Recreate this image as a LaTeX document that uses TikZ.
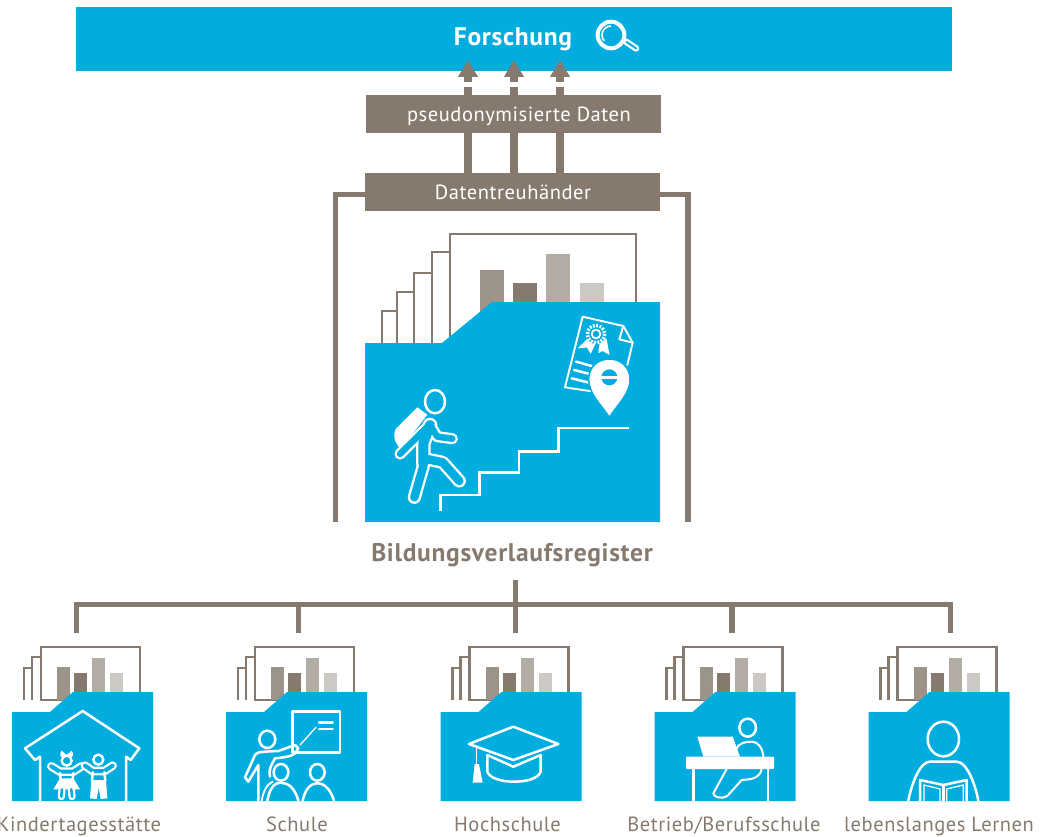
\documentclass[tikz,border=0pt]{standalone}
\usepackage{fontspec}
\setmainfont{PT Sans}[LetterSpace=2.7]
\usetikzlibrary{arrows.meta,calc}
\definecolor{fblue}{HTML}{00ADDE}
\definecolor{fbrown}{HTML}{857A6D}
\definecolor{barA}{HTML}{9C9389}
\definecolor{barB}{HTML}{857A6D}
\definecolor{barC}{HTML}{B3ACA4}
\definecolor{barD}{HTML}{CCC8C3}
\tikzset{
  box/.style={fill=fbrown,minimum width=295pt,minimum height=38pt,inner sep=0pt},
  boxtxt/.style={text=white,inner sep=0pt,anchor=base,font=\fontsize{20.5}{24}\selectfont},
  lbl/.style={text=fbrown,inner sep=0pt,anchor=base,font=\fontsize{20.5}{24}\selectfont},
  conn/.style={draw=fbrown,line width=5.2pt},
  shaft/.style={draw=fbrown,line width=8pt},
  sheet/.style={draw=fbrown,fill=white,line width=2.5pt},
  ln/.style={draw=white,line width=2.5pt,line cap=round,line join=round},
  thin/.style={draw=white,line width=1.3pt,line cap=round,line join=round},
  z/.style 2 args={shift={(#1,#2)},x=0.33333pt,y=-0.33333pt}
}
\newcommand{\smallfolder}[1]{%
 \begin{scope}[shift={(#1,0)}]
  \draw[sheet] (12,700)--(12,668)--(20,668)--(20,700);
  \draw[sheet] (20,700)--(20,657)--(29,657)--(29,700);
  \draw[sheet] (29,700)--(29,647)--(128,647)--(128,700)--cycle;
  \fill[barA] (45,667) rectangle (58,700);
  \fill[barB] (62,673) rectangle (75,700);
  \fill[barC] (80,658) rectangle (93,700);
  \fill[barD] (98,673) rectangle (111,700);
  \fill[fblue] (0,712)--(38,712)--(61,692)--(141,692)--(141,801)--(0,801)--cycle;
 \end{scope}}
\def\hikerparts#1#2{%
  \draw[#2,line width=#1+10pt,line cap=round,line join=round] (150,135)--(130,190)--(130,250);
  \draw[#2,line width=#1+8.5pt,line cap=round,line join=round] (130,258)--(103,352);
  \draw[#2,line width=#1+8.5pt,line cap=round,line join=round] (145,238)--(188,247)--(238,303);
  \draw[#2,line width=#1+6.5pt,line cap=round,line join=round] (150,135)--(172,170)--(217,176);
  \draw[#2,line width=#1+6.5pt,line cap=round,line join=round] (148,135)--(60,222);
}
\def\tube#1#2#3{%
  \draw[white,line width=#1+4.6pt,line cap=round,line join=round] #3;
  \draw[fblue,line width=#1,line cap=round,line join=round] #3;}
\begin{document}
\begin{tikzpicture}[x=1pt,y=-1pt]
\useasboundingbox (0,0) rectangle (1051,837);
% top bar
\node[fill=fblue,minimum width=876pt,minimum height=64pt,inner sep=0pt] (bar) at (514,39) {};
\node[text=white,inner sep=0pt,anchor=base,font=\fontsize{25.5}{30}\selectfont\bfseries] (forsch) at (513,46) {Forschung};
% magnifier
\begin{scope}[z={330}{0}]
 \draw[white,line width=4pt] (843,105) circle (40);
 \draw[white,line width=1.6pt] (843,78) arc (-90:-220:27);
 \draw[white,line width=6.5pt,line cap=round] (888,125)--(918,145);
 \draw[fblue,line width=2pt,line cap=round] (890,126)--(918,145);
\end{scope}
% boxes and arrows
\foreach \n/\xx in {a/468,b/514,c/560}{
  \coordinate (\n0) at (\xx,173);
  \coordinate (\n1) at (\xx,87);
  \coordinate (\n2) at (\xx,82);
  \coordinate (\n3) at (\xx,60);
  \draw[shaft] (\n0)--(\n1);
  \draw[shaft,-{Triangle[length=17pt,width=19pt]}] (\n2)--(\n3);
}
\node[box] (pseudobox) at (513.5,114) {};
\node[box] (treubox) at (512.5,192) {};
\node[boxtxt] (pseudotxt) at (519,121.7) {pseudonymisierte Daten};
\node[boxtxt] (treutxt) at (513,200) {Datentreuhänder};
% bracket
\coordinate (bl) at (335.5,522);
\coordinate (br) at (688,522);
\coordinate (tl) at (365,194.5);
\coordinate (tr) at (660,194.5);
\draw[conn] (bl)|-(tl);
\draw[conn] (br)|-(tr);
% large folder
\draw[sheet] (382,343)--(382,311)--(397,311)--(397,343);
\draw[sheet] (397,343)--(397,292)--(414,292)--(414,343);
\draw[sheet] (414,343)--(414,273)--(432,273)--(432,343);
\draw[sheet] (432,343)--(432,252)--(450,252)--(450,343);
\draw[sheet] (450,343)--(450,234)--(636,234)--(636,343);
\fill[barA] (480,270) rectangle (504,320);
\fill[barB] (513,283) rectangle (537,320);
\fill[barC] (546,254) rectangle (570,320);
\fill[barD] (580,283) rectangle (604,320);
\fill[fblue] (365,343)--(442,343)--(492,302)--(660,302)--(660,522)--(365,522)--cycle;
% large icon
\begin{scope}[z={360}{290}]
 \draw[ln,line cap=butt,line join=miter] (241,662)--(241,615)--(358,615)--(358,548)--(477,548)--(477,484)--(596,484)--(596,414)--(808,414);
 \draw[ln,line width=1.9pt] (695,304)--(615,292)--(668,80)--(790,108)--(818,158)--(802,225);
 \draw[ln,line width=1.9pt] (790,108)--(778,148)--(818,158);
 \draw[ln] (648,215)--(695,228) (642,240)--(690,252) (635,265)--(688,278);
 \draw[white,line width=1.7pt,fill=white] (685,147)--(660,172)--(682,170)--(692,186)--(705,158)--cycle;
 \draw[white,line width=1.7pt,fill=white] (722,155)--(718,185)--(728,180)--(745,190)--(738,150)--cycle;
 \fill[fblue] (708,132) circle (30);
 \draw[white,line width=1.8pt] (708,132) circle (13);
 \draw[white,line width=3.4pt,dash pattern=on 1.9pt off 1.5pt] (708,132) circle (26);
 \fill[white,draw=fblue,line width=1.5pt] (748,382) .. controls (720,340) and (686,310) .. (686,268) .. controls (686,230) and (715,207) .. (748,207) .. controls (781,207) and (810,230) .. (810,268) .. controls (810,310) and (776,340) .. (748,382) -- cycle;
 \fill[fblue] (748,262) circle (24);
 \draw[white,line width=3pt] (722,262)--(774,262);
\end{scope}
% hiker
\begin{scope}[z={380}{380}]
 \draw[ln] (165,65) ellipse (30 and 35);
 \fill[white] (112,82)--(142,104)--(62,208) .. controls (42,185) and (38,165) .. (47,147) -- cycle;
 \hikerparts{4.6pt}{white}
 \hikerparts{0pt}{fblue}
\end{scope}
% register label
\node[lbl,font=\fontsize{25.5}{30}\selectfont\bfseries] (reg) at (512,561) {Bildungsverlaufsregister};
% tree
\coordinate (hub) at (515.5,604.7);
\coordinate (top) at (515.5,580);
\foreach \n/\xx in {d0/76.7,d1/298.7,d2/515.5,d3/732,d4/950.5}{
 \coordinate (\n) at (\xx,633);
}
\draw[conn] (top)--(d2);
\draw[conn] (d0)|-(hub);
\draw[conn] (d1)|-(hub);
\draw[conn] (d3)|-(hub);
\draw[conn] (d4)|-(hub);
% small folders
\smallfolder{12}\smallfolder{226}\smallfolder{440.5}\smallfolder{654.5}\smallfolder{868.5}
% Kita
\begin{scope}[z={0}{640}]
 \draw[ln] (120,482)--(120,350)--(105,360)--(75,325)--(248,213)--(418,325)--(392,360)--(378,350)--(378,482);
\end{scope}
\begin{scope}[z={40}{745}]
 \fill[white] (80,30)--(65,17) .. controls (58,25) and (60,38) .. (68,36)--cycle;
 \fill[white] (80,30)--(95,17) .. controls (102,25) and (100,38) .. (92,36)--cycle;
 \draw[white,line width=2.4pt,fill=fblue] (80,47) circle (15);
 \tube{4pt}{}{(34,64)--(60,80)--(100,80)--(124,64)}
 \draw[ln] (60,84)--(62,105) (100,84)--(98,105);
 \fill[white] (60,100)--(100,100)--(120,133)--(40,133)--cycle;
 \tube{2.6pt}{}{(66,133)--(64,155)}
 \tube{2.6pt}{}{(94,133)--(96,155)}
 \draw[white,line width=2.4pt] (175,44) circle (15);
 \tube{4pt}{}{(135,62)--(158,78)--(193,78)--(218,62)}
 \draw[ln] (158,82)--(156,108) (193,82)--(196,108);
 \fill[white] (154,105)--(198,105)--(202,160)--(182,162)--(176,128)--(170,162)--(150,160)--cycle;
\end{scope}
% Schule
\begin{scope}[z={0}{640}]
 \draw[ln] (877,214) rectangle (1020,338);
 \draw[ln] (957,248)--(998,248) (957,267)--(998,267);
 \draw[thin] (900,315)--(948,262);
 \draw[ln] (802,298) ellipse (24 and 26);
 \draw[ln] (775,482)--(775,375)--(745,425)--(735,412)--(765,345) .. controls (770,335) and (790,335) .. (835,333)--(885,315)--(895,325)--(885,340) .. controls (870,352) and (850,352) .. (825,355) .. controls (815,375) and (805,385) .. (810,410);
 \draw[ln] (843,397) ellipse (22 and 25);
 \draw[ln] (802,482) .. controls (810,440) and (825,428) .. (843,428) .. controls (865,428) and (885,445) .. (895,482);
 \draw[ln,line width=1.8pt] (785,482) .. controls (790,455) and (800,432) .. (818,425);
 \draw[ln] (952,397) ellipse (22 and 25);
 \draw[ln] (908,482) .. controls (915,450) and (930,430) .. (952,430) .. controls (975,430) and (992,450) .. (1002,482);
\end{scope}
% Hochschule
\begin{scope}[z={430}{640}]
 \draw[ln] (250,260)--(385,312)--(250,360)--(117,312)--cycle;
 \draw[ln] (172,345)--(172,395) .. controls (185,435) and (320,435) .. (332,395)--(332,345)--(250,380)--cycle;
 \draw[ln,line width=1.6pt] (140,325)--(140,375);
 \fill[white] (134,372)--(147,372)--(158,428)--(128,428)--cycle;
\end{scope}
% Betrieb
\begin{scope}[z={430}{640}]
 \draw[ln] (953,263) ellipse (25 and 27);
 \fill[white,rounded corners=1pt] (768,350) rectangle (1032,387);
 \draw[ln,line cap=butt] (790,387)--(790,482) (1014,387)--(1014,482);
 \fill[white] (802,290)--(908,290)--(930,350)--(820,350)--cycle;
 \draw[ln,line width=2pt] (918,328) .. controls (925,310) and (945,305) .. (965,305) .. controls (985,305) and (998,325) .. (1000,350);
 \draw[ln,line width=2pt] (995,387) .. controls (990,410) and (975,418) .. (935,420)--(892,468) .. controls (875,478) and (850,472) .. (850,460)--(890,387);
\end{scope}
% Lernen
\begin{scope}[z={800}{640}]
 \draw[ln] (430,297) ellipse (47 and 52);
 \draw[ln] (325,482) .. controls (335,430) and (360,365) .. (390,365)--(470,365) .. controls (500,365) and (525,430) .. (535,482);
 \draw[ln] (360,482)--(360,420)--(430,435)--(500,420)--(500,482);
 \draw[ln] (430,435)--(430,482);
 \draw[thin] (372,482)--(372,435)--(420,447)--(420,482);
 \draw[thin] (440,482)--(440,447)--(490,435)--(490,482);
\end{scope}
% labels
\node[lbl] (l0) at (79,831) {Kindertagesstätte};
\node[lbl] (l1) at (297,831) {Schule};
\node[lbl] (l2) at (507.5,831) {Hochschule};
\node[lbl] (l3) at (724,831) {Betrieb/Berufsschule};
\node[lbl] (l4) at (939,831) {lebenslanges Lernen};
\end{tikzpicture}
\end{document}
